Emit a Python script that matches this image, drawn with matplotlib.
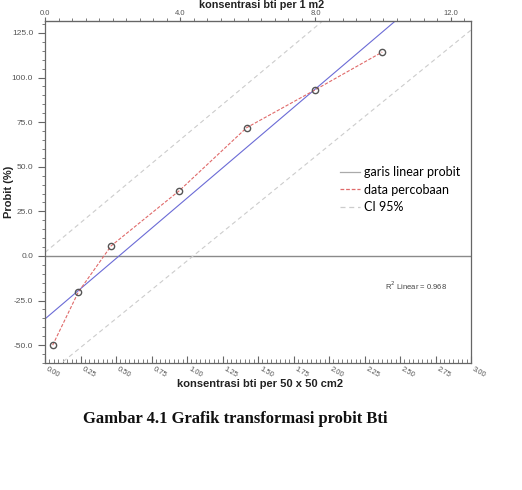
import matplotlib
matplotlib.use("Agg")
import matplotlib.pyplot as plt
import numpy as np
from matplotlib.lines import Line2D
from matplotlib.ticker import MultipleLocator, FixedLocator, FormatStrFormatter

plt.rcParams['font.family'] = ['Liberation Sans', 'DejaVu Sans']

# data percobaan (konsentrasi per 50 x 50 cm2, probit %)
konsentrasi = [0.054, 0.235, 0.465, 0.946, 1.42, 1.90, 2.375]
probit = [-50.0, -20.2, 5.6, 36.6, 71.9, 93.0, 114.3]

# garis linear probit
fit_intercept = -35.3
fit_slope = 67.7

# CI 95% (nilai pada ujung sumbu)
ci_x = [0.0, 3.0]
ci_upper = [2.0, 201.0]
ci_lower = [-67.5, 126.6]

top_ticks = [0.0, 4.0, 8.0, 12.0]
r2_text = "R$^2$ Linear = 0.968"
faktor_m2 = 4.2

fig = plt.figure(figsize=(5.22, 4.90), dpi=100)
ax = fig.add_axes([45/522, 1-363/490, 426/522, 342/490])

ax.axhline(0, color="#8a8a8a", lw=1.0, zorder=1)

xs = np.array(ci_x)
ax.plot(xs, fit_intercept + fit_slope*xs, color="#6b6bd6", lw=0.8, zorder=2)
ax.plot(ci_x, ci_upper, color="#cccccc", lw=0.8, ls=(0, (4, 3)), zorder=2)
ax.plot(ci_x, ci_lower, color="#cccccc", lw=0.8, ls=(0, (4, 3)), zorder=2)
ax.plot(konsentrasi, probit, color="#e06a6a", lw=0.8, ls=(0, (3, 1.5)), zorder=3)
ax.plot(konsentrasi, probit, ls="none", marker="o", ms=4.5, mfc="none",
        mec="#555555", mew=1.0, zorder=4)

ax.set_xlim(0, 3.0)
ax.set_ylim(-60, 131.7)

for s in ax.spines.values():
    s.set_color("#666666")
    s.set_linewidth(0.9)

ax.xaxis.set_major_locator(MultipleLocator(0.25))
ax.xaxis.set_minor_locator(MultipleLocator(0.25/8))
ax.xaxis.set_major_formatter(FormatStrFormatter("%.2f"))
ax.yaxis.set_major_locator(MultipleLocator(25))
ax.yaxis.set_minor_locator(MultipleLocator(5))
ax.yaxis.set_major_formatter(FormatStrFormatter("%.1f"))

ax.tick_params(axis="x", which="both", direction="in", colors="#666666",
               labelsize=5.5, labelcolor="#555555", pad=2)
ax.tick_params(axis="x", which="major", length=5)
ax.tick_params(axis="x", which="minor", length=3)
ax.tick_params(axis="y", which="both", direction="out", colors="#666666",
               labelsize=6, labelcolor="#555555")
ax.tick_params(axis="y", which="major", length=5)
ax.tick_params(axis="y", which="minor", length=2.5)
for lab in ax.get_xticklabels():
    lab.set_rotation(-30)
    lab.set_ha("left")
    lab.set_va("top")

fig.text(260/522, 1-384/490, "konsentrasi bti per 50 x 50 cm2", fontsize=8,
         fontweight="bold", color="#222222", ha="center", va="center")
fig.text(9/522, 1-192/490, "Probit (%)", fontsize=8, fontweight="bold",
         color="#222222", rotation=90, ha="center", va="center")

top = ax.secondary_xaxis("top", functions=(lambda x: x*faktor_m2, lambda x: x/faktor_m2))
top.xaxis.set_major_locator(FixedLocator(top_ticks))
top.xaxis.set_minor_locator(FixedLocator(np.arange(0, 12.6, 0.4)))
top.xaxis.set_major_formatter(FormatStrFormatter("%.1f"))
top.tick_params(which="both", direction="out", colors="#666666", labelsize=5.5,
                labelcolor="#555555", pad=0)
top.tick_params(which="major", length=3)
top.tick_params(which="minor", length=2)
top.spines["top"].set_color("#666666")
fig.text(262/522, 1-5.5/490, "konsentrasi bti per 1 m2", fontsize=7.8,
         fontweight="bold", color="#222222", ha="center", va="center")

ax.text(0.798, 0.225, r2_text, transform=ax.transAxes, fontsize=5.5,
        color="#444444", va="center")

handles = [
    Line2D([], [], color="#aaaaaa", lw=0.9),
    Line2D([], [], color="#e06a6a", lw=0.9, ls=(0, (3, 1.5))),
    Line2D([], [], color="#cccccc", lw=0.9, ls=(0, (4, 3))),
]
labels = ["garis linear probit", "data percobaan", "CI 95%"]
ax.legend(handles, labels, loc="upper left", bbox_to_anchor=(340/522, 1-166/490),
          bbox_transform=fig.transFigure, frameon=False, borderpad=0,
          borderaxespad=0, labelspacing=0.45, handlelength=1.6,
          handletextpad=0.35, prop={"family": "Lato", "size": 9})

fig.text(235/522, 1-419/490, "Gambar 4.1 Grafik transformasi probit Bti",
         family="Liberation Serif", fontweight="bold", fontsize=12,
         ha="center", va="center", color="#111111")

fig.savefig("out.png", dpi=100)
